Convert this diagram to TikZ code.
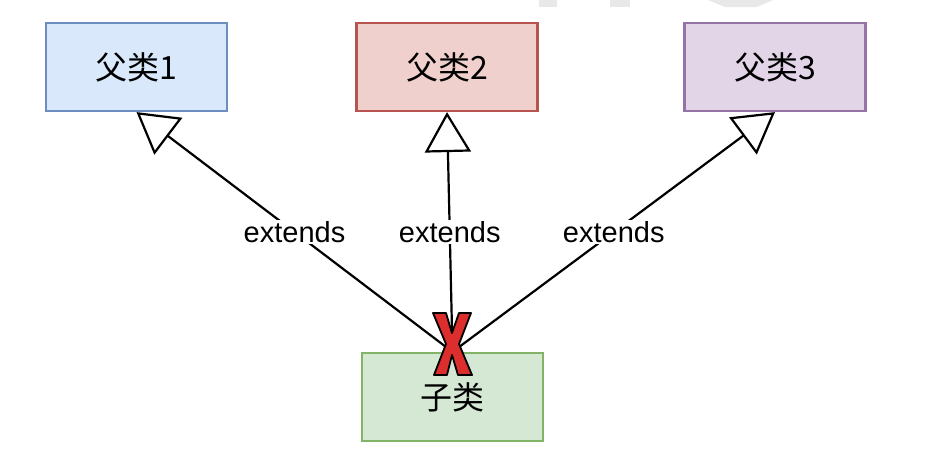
\documentclass[tikz,border=0pt]{standalone}
\usepackage{fontspec}
\setmainfont{Liberation Sans}
\newfontfamily\cjk{Noto Sans CJK SC}
\usetikzlibrary{arrows.meta}

\definecolor{blueFill}{HTML}{DAE8FC}
\definecolor{blueLine}{HTML}{6C8EBF}
\definecolor{redFill}{HTML}{F0D0CC}
\definecolor{redLine}{HTML}{B85450}
\definecolor{purpleFill}{HTML}{E1D5E7}
\definecolor{purpleLine}{HTML}{9673A6}
\definecolor{greenFill}{HTML}{D5E8D4}
\definecolor{greenLine}{HTML}{82B366}
\definecolor{crossRed}{HTML}{DD2E2E}
\definecolor{wmGray}{HTML}{E8E8E8}

\begin{document}
\begin{tikzpicture}[x=1pt,y=-1pt,
    classbox/.style={draw,line width=2.2pt,minimum width=181pt,minimum height=88pt,
      inner sep=0pt,font=\fontsize{32}{38}\selectfont\cjk},
    inherit/.style={line width=2.2pt,-{Triangle[open,length=40pt,width=46pt]}},
    lbl/.style={fill=white,inner sep=1pt,font=\fontsize{29}{34}\selectfont}]
  % bounding box
  \useasboundingbox (0,0) rectangle (926,451);
  % faint watermark at the top edge
  \fill[wmGray] (539,0) rectangle (557,7);
  \fill[wmGray] (610,0) rectangle (630,7);
  \fill[wmGray] (708,0) -- (773,0) -- (757,7) -- (725,7) -- cycle;
  % parent classes
  \foreach \i/\x/\c in {1/136.5/blue,2/447/red,3/775/purple}{
      \node[classbox,draw=\c Line,fill=\c Fill] (p\i) at (\x,67) {父类\i};
    }
  % child class
  \node[classbox,draw=greenLine,fill=greenFill] (child) at (452.5,397) {子类};
  % extends arrows
  \foreach \i in {1,2,3}{
      \draw[inherit] (child.north) -- node[lbl] {extends} (p\i.south);
    }
  % red cross on the child
  \draw[fill=crossRed,line width=1.8pt,line join=round]
    (433,313) -- (446,313) -- (452,333) -- (459,313) -- (471,313) -- (459,344)
    -- (472,375) -- (458,375) -- (452,355) -- (447,375) -- (434,375) -- (446,344) -- cycle;
\end{tikzpicture}
\end{document}
